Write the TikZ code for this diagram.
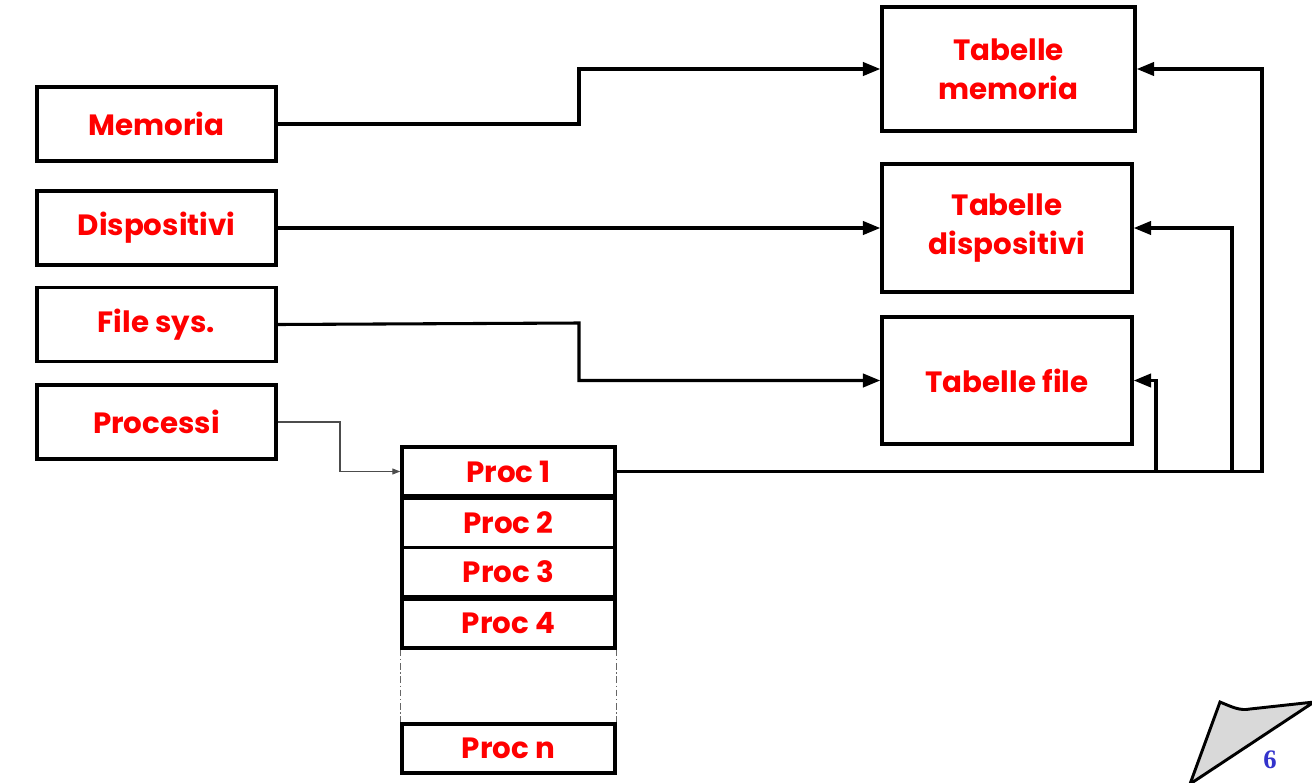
\documentclass[tikz,border=0pt]{standalone}
\usepackage{fontspec}
\setmainfont{Poppins}
\newfontfamily\numfont{Liberation Serif}
\usetikzlibrary{arrows.meta}
\definecolor{labelred}{HTML}{FF0000}
\definecolor{pageblue}{HTML}{3333CC}
\tikzset{
  box/.style={draw=black, line width=2.6pt, fill=white, text=labelred,
    font=\fontsize{22}{29}\selectfont\bfseries, align=center, inner sep=0pt},
  leftbox/.style={box, minimum width=179.25pt, minimum height=55.5pt},
  procbox/.style={box, minimum width=159.75pt, minimum height=36.75pt},
  conn/.style={line width=2.3pt, -{Triangle[length=13pt,width=10pt]}},
  thinconn/.style={line width=0.8pt, draw=black!70, -{Triangle[length=6pt,width=4.5pt]}},
  gap/.style={draw=black!60, line width=0.9pt, dash pattern=on 5pt off 2pt on 1pt off 2pt}
}
\begin{document}
\begin{tikzpicture}[x=0.75pt,y=-0.75pt]
\useasboundingbox (0,0) rectangle (1312,782);

% resources on the left
\node[leftbox] (mem)  at (156.5,124)   {Memoria};
\node[leftbox] (disp) at (156.5,228)   {Dispositivi};
\node[leftbox] (fs)   at (156.5,324.5) {File sys.};
\node[leftbox] (proc) at (156.5,422)   {Processi};

% kernel tables on the right
\node[box, minimum width=189.75pt, minimum height=93pt] (tm) at (1008.5,69) {Tabelle\\memoria};
\node[box, minimum width=187.5pt, minimum height=96pt] (td) at (1007,228) {Tabelle\\dispositivi};
\node[box, minimum width=187.5pt, minimum height=95.25pt] (tf) at (1007,380.5) {Tabelle file};

% process table
\node[procbox] (p1) at (508.5,471.5) {Proc 1};
\node[procbox] (p2) at (508.5,523)   {Proc 2};
\node[procbox] (p3) at (508.5,572)   {Proc 3};
\node[procbox] (p4) at (508.5,623.5) {Proc 4};
\node[procbox] (pn) at (508.5,748.5) {Proc n};
\draw[gap] (p4.south west) -- (pn.north west);
\draw[gap] (p4.south east) -- (pn.north east);

% resources to tables
\draw[conn] (mem.east) -- (579,124) -- (579,69) -- (tm.west);
\draw[conn] (disp.east) -- (td.west);
\draw[conn] (fs.east) -- (579,323) -- (579,380.5) -- (tf.west);
\draw[thinconn] (proc.east) -- (340,422) -- (340,471.5) -- (p1.west);

% process entry pointing to the tables
\draw[conn] (p1.east) -- (1262,471.5) |- (tm.east);
\draw[conn] (p1.east) -- (1232,471.5) |- (td.east);
\draw[conn] (p1.east) -- (1156,471.5) |- (tf.east);

% folded page corner with page number
\filldraw[fill=black!15, draw=black, line width=2.2pt, line join=miter]
  (1190,784) -- (1220,702) .. controls (1232,707) and (1240,711) .. (1250,709)
  -- (1314,702) -- cycle;
\node[text=pageblue, font=\numfont\fontsize{20}{20}\selectfont\bfseries] (pg) at (1270,760) {6};
\end{tikzpicture}
\end{document}
